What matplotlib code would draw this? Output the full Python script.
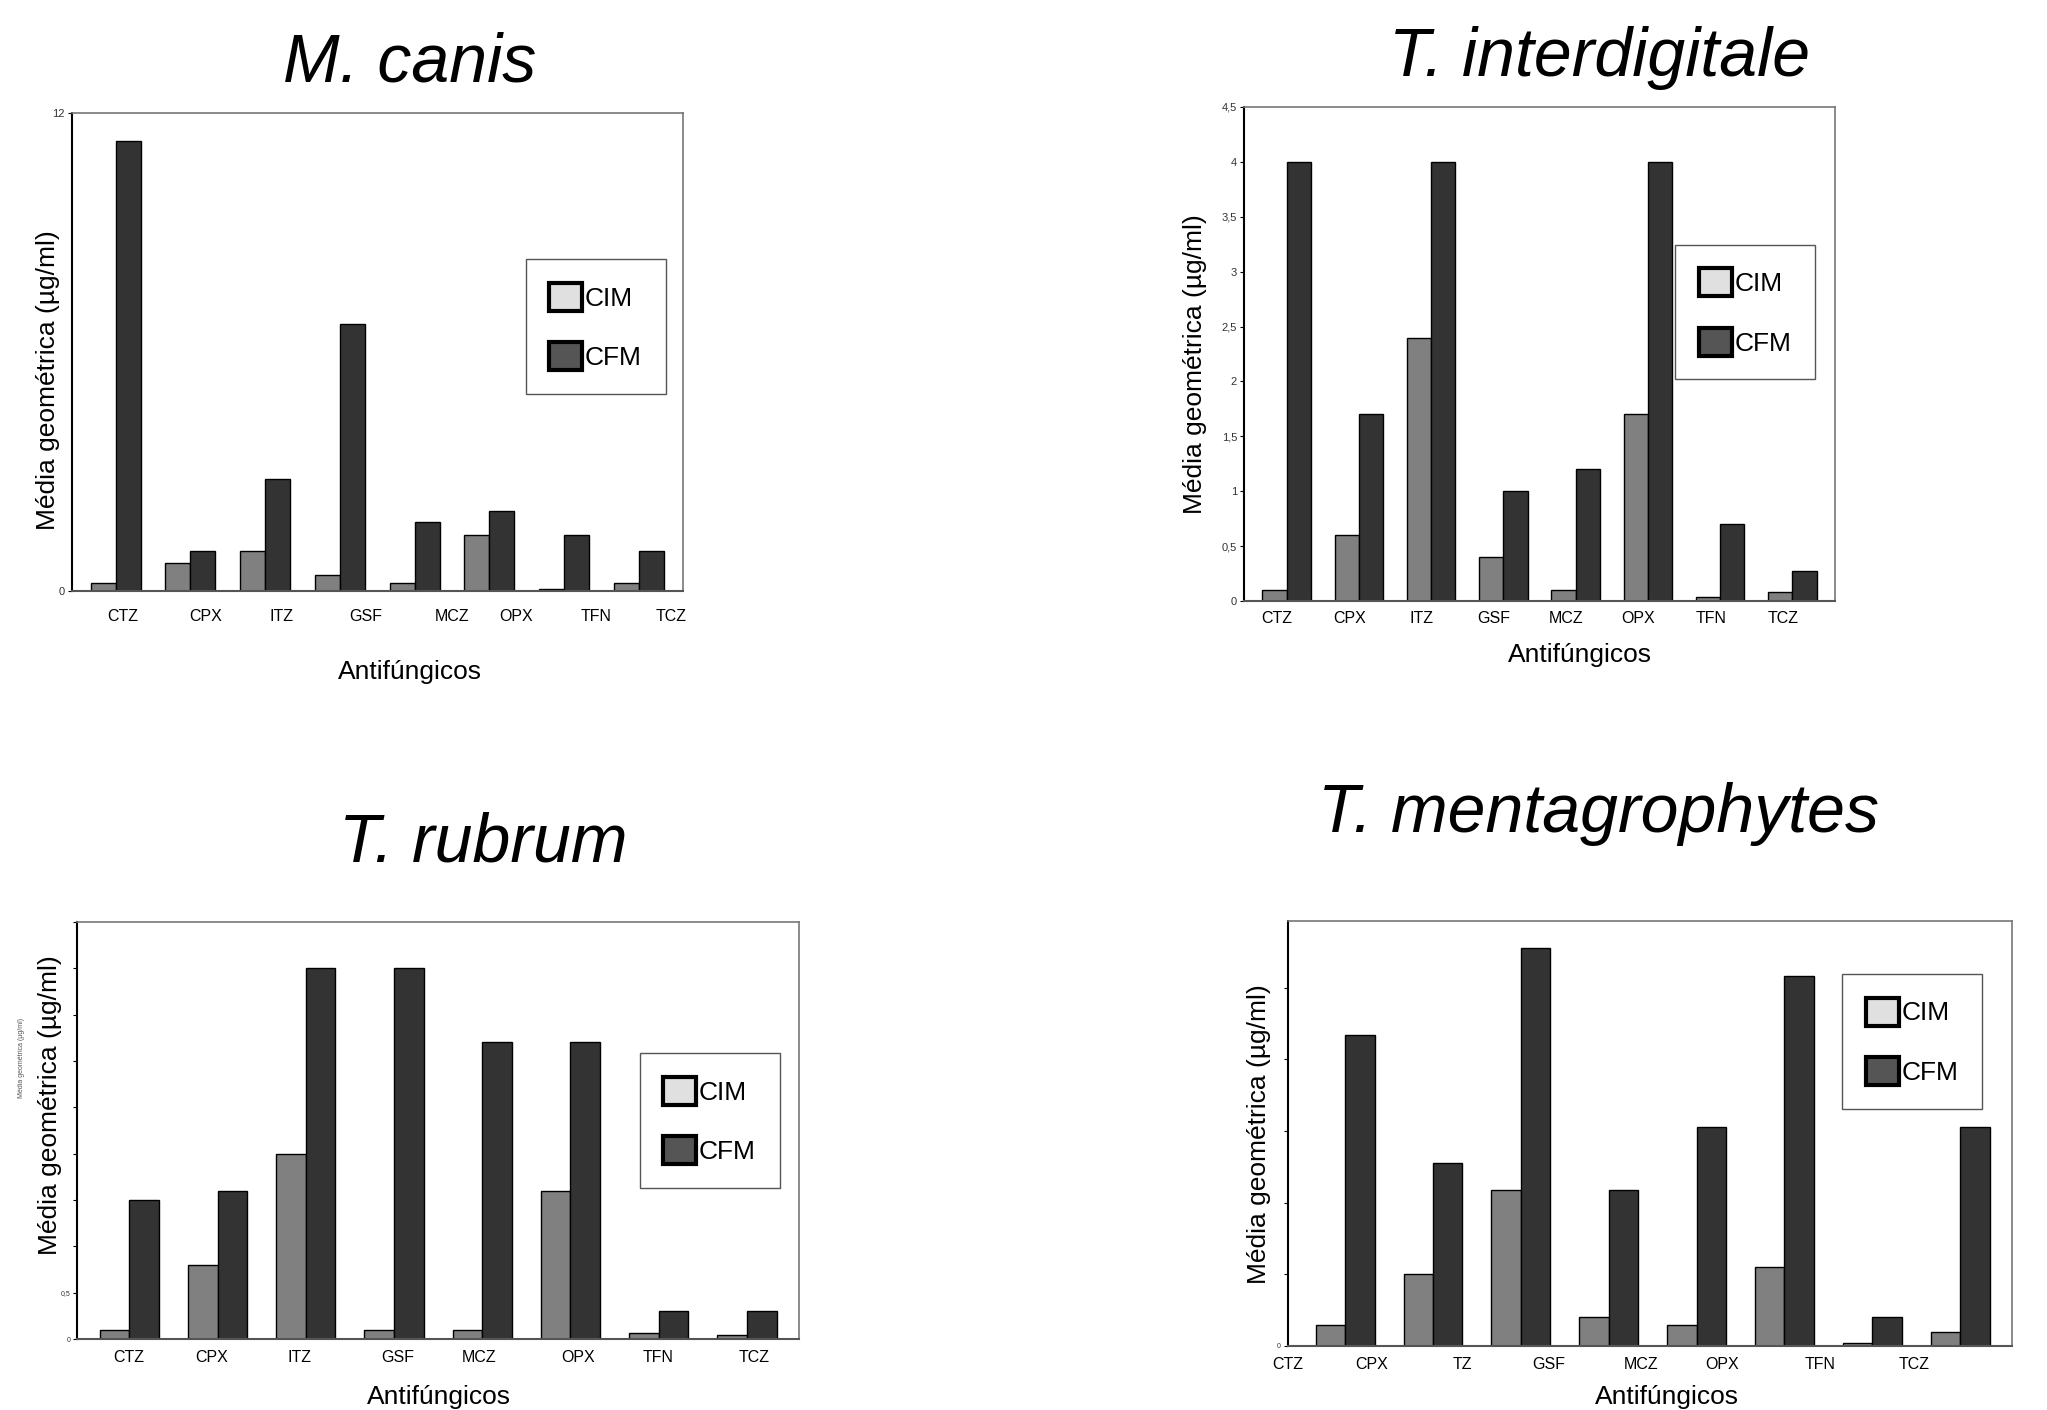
import numpy as np
import matplotlib.pyplot as plt
from matplotlib.patches import Rectangle

plt.rcParams['font.family'] = ['Liberation Sans', 'DejaVu Sans']

categories = ['CTZ', 'CPX', 'ITZ', 'GSF', 'MCZ', 'OPX', 'TFN', 'TCZ']
categories_mentag = ['CTZ', 'CPX', 'TZ', 'GSF', 'MCZ', 'OPX', 'TFN', 'TCZ']

canis_cim = [0.21, 0.70, 1.0, 0.41, 0.21, 1.40, 0.04, 0.21]
canis_cfm = [11.3, 1.0, 2.82, 6.7, 1.72, 2.0, 1.4, 1.0]
interdig_cim = [0.1, 0.6, 2.4, 0.4, 0.1, 1.7, 0.04, 0.08]
interdig_cfm = [4.0, 1.7, 4.0, 1.0, 1.2, 4.0, 0.7, 0.27]
rubrum_cim = [0.1, 0.8, 2.0, 0.1, 0.1, 1.6, 0.06, 0.04]
rubrum_cfm = [1.5, 1.6, 4.0, 4.0, 3.2, 3.2, 0.3, 0.3]
mentag_cim = [0.15, 0.5, 1.09, 0.2, 0.15, 0.55, 0.02, 0.1]
mentag_cfm = [2.17, 1.28, 2.78, 1.09, 1.53, 2.58, 0.2, 1.53]

W, H = 2047, 1410
fig = plt.figure(figsize=(W / 100, H / 100), dpi=100)


def panel(box, title, title_xy, cim, cfm, labels, lab_shift, ylim, yticks, yticklabels,
          ytick_fs, tick_pad, ylab_xy, xlab_xy, leg_xy):
    left, right, top, bottom = box
    ax = fig.add_axes([left / W, 1 - bottom / H, (right - left) / W, (bottom - top) / H])
    x = np.arange(len(cim))
    w = 0.335
    ax.bar(x - w / 2, cim, w, color='#808080', edgecolor='black', linewidth=1)
    ax.bar(x + w / 2, cfm, w, color='#333333', edgecolor='black', linewidth=1)
    ax.set_xlim(-0.59, len(cim) - 1 + 0.59)
    ax.set_ylim(*ylim)
    ax.set_xticks(x + np.array(lab_shift))
    ax.set_xticklabels(labels, fontsize=11.5)
    ax.tick_params(axis='x', length=0, pad=tick_pad)
    ax.set_yticks(yticks)
    ax.set_yticklabels(yticklabels, fontsize=ytick_fs, color='#333333')
    ax.tick_params(axis='y', length=3, width=0.8, pad=2)
    ax.spines['left'].set_color('black')
    ax.spines['left'].set_linewidth(1.5)
    ax.spines['bottom'].set_color('#555555')
    ax.spines['bottom'].set_linewidth(1.5)
    for s in ['top', 'right']:
        ax.spines[s].set_color('#777777')
        ax.spines[s].set_linewidth(1.2)

    ax.set_ylabel('Média geométrica (µg/ml)', fontsize=19)
    ax.yaxis.set_label_coords(*ylab_xy)
    ax.yaxis.label.set_va('center')
    ax.set_xlabel('Antifúngicos', fontsize=19)
    ax.xaxis.set_label_coords(*xlab_xy)
    ax.xaxis.label.set_va('center')

    handles = [Rectangle((0, 0), 1, 1, facecolor='#e0e0e0', edgecolor='black', linewidth=3),
               Rectangle((0, 0), 1, 1, facecolor='#555555', edgecolor='black', linewidth=3)]
    leg = ax.legend(handles, ['CIM', 'CFM'], loc='center', bbox_to_anchor=leg_xy,
                    fontsize=19, handlelength=1.25, handleheight=1.25, handletextpad=0.1,
                    labelspacing=1.2, borderpad=0.9, fancybox=False, framealpha=1)
    leg.get_frame().set_edgecolor('#555555')
    leg.get_frame().set_linewidth(1)

    fig.text(title_xy[0] / W, 1 - title_xy[1] / H, title, fontsize=49, style='italic',
             ha='center', va='baseline')
    return ax


panel((71.5, 683, 113, 591), 'M. canis', (410, 82), canis_cim, canis_cfm, categories,
      [0.09, 0.21, 0.22, 0.35, 0.50, 0.36, 0.43, 0.43], (0, 12), [0, 12], ['0', '12'], 8, 13,
      (-0.038, 0.441), (0.553, -0.169), (0.857, 0.553))

panel((1244, 1835, 107, 601), 'T. interdigitale', (1600, 76), interdig_cim, interdig_cfm, categories,
      [-0.13] * 8, (0, 4.5), np.arange(0, 4.51, 0.5),
      ['0', '0,5', '1', '1,5', '2', '2,5', '3', '3,5', '4', '4,5'], 8, 7,
      (-0.083, 0.480), (0.569, -0.109), (0.848, 0.585))

ax3 = panel((77.3, 799, 922, 1339), 'T. rubrum', (483, 862), rubrum_cim, rubrum_cfm, categories,
            [-0.01, -0.07, -0.07, 0.04, -0.04, 0.09, -0.01, 0.08], (0, 4.5), np.arange(0, 4.51, 0.5),
            ['0', '0,5'] + [''] * 8, 5, 8,
            (-0.038, 0.562), (0.501, -0.139), (0.876, 0.524))
ax3.text(-0.0775, 0.675, 'Média geométrica (µg/ml)', transform=ax3.transAxes, rotation=90,
         fontsize=5, color='#555555', ha='center', va='center')

panel((1288, 2012, 920.5, 1346), 'T. mentagrophytes', (1598, 832), mentag_cim, mentag_cfm,
      categories_mentag, [-0.65, -0.70, -0.67, -0.68, -0.63, -0.71, -0.60, -0.52], (0, 2.97),
      np.arange(0, 2.6, 0.5), ['0', '', '', '', '', ''], 5, 8,
      (-0.040, 0.499), (0.523, -0.120), (0.862, 0.716))

fig.savefig('out.png', dpi=100, facecolor='white')
